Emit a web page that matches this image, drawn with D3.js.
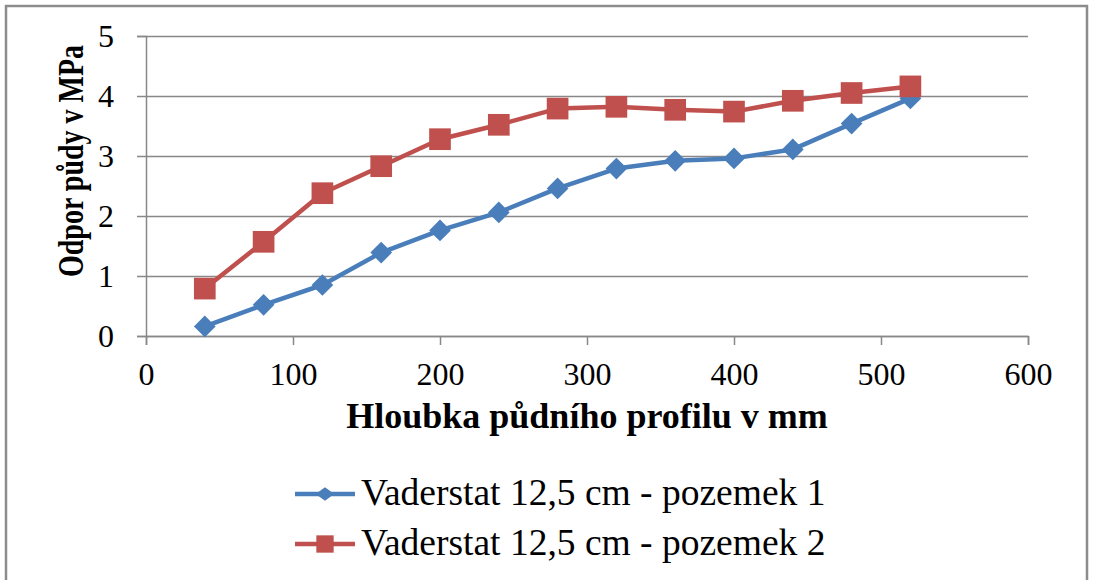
<!DOCTYPE html>
<html>
<head>
<meta charset="utf-8">
<script src="https://cdn.jsdelivr.net/npm/d3@7"></script>
<style>
  body { margin: 0; background: #fff; }
  svg text { font-family: "Liberation Serif", "Times New Roman", serif; fill: #000; }
</style>
</head>
<body>
<svg id="chart" width="1093" height="580"></svg>
<script>
// hloubka v mm
const depths = [40, 80, 120, 160, 200, 240, 280, 320, 360, 400, 440, 480, 520];
// odpor pudy v MPa
const pozemek1 = [0.16, 0.52, 0.85, 1.39, 1.76, 2.06, 2.46, 2.79, 2.92, 2.96, 3.11, 3.54, 3.96];
const pozemek2 = [0.79, 1.57, 2.38, 2.83, 3.28, 3.52, 3.79, 3.82, 3.77, 3.74, 3.92, 4.05, 4.16];
const seriesNames = ["Vaderstat 12,5 cm - pozemek 1", "Vaderstat 12,5 cm - pozemek 2"];
const xTicks = [0, 100, 200, 300, 400, 500, 600];
const yTicks = [0, 1, 2, 3, 4, 5];

const colors = ["#4a7ebb", "#c0504d"];
const margin = { top: 36, right: 65, bottom: 244, left: 146 };
const width = 1093, height = 580;

const svg = d3.select("#chart");

// outer frame
svg.append("rect")
  .attr("x", 6).attr("y", 6)
  .attr("width", 1081).attr("height", 600)
  .attr("fill", "none")
  .attr("stroke", "#8c8c8c")
  .attr("stroke-width", 2.5);

const x = d3.scaleLinear([0, 600], [margin.left, width - margin.right]);
const y = d3.scaleLinear([0, 5], [height - margin.bottom, margin.top]);

// y axis + grid
svg.append("g")
  .attr("transform", `translate(${margin.left},0)`)
  .call(d3.axisLeft(y).tickValues(yTicks).tickFormat(d3.format("d")).tickSize(9).tickPadding(23))
  .call(g => g.select(".domain").attr("stroke", "#888").attr("stroke-width", 1.5))
  .call(g => g.selectAll(".tick line").attr("stroke", "#888").attr("stroke-width", 1.5))
  .call(g => g.selectAll(".tick line").clone()
      .attr("x2", width - margin.left - margin.right))
  .call(g => g.selectAll(".tick text")
      .style("font-size", "32px").style("font-family", "Liberation Serif"));

// x axis
svg.append("g")
  .attr("transform", `translate(0,${height - margin.bottom})`)
  .call(d3.axisBottom(x).tickValues(xTicks).tickFormat(d3.format("d")).tickSize(9).tickPadding(17))
  .call(g => g.select(".domain").attr("stroke", "#888").attr("stroke-width", 1.5))
  .call(g => g.selectAll(".tick line").attr("stroke", "#888").attr("stroke-width", 1.5))
  .call(g => g.selectAll(".tick text")
      .style("font-size", "32px").style("font-family", "Liberation Serif"));

// axis titles
svg.append("text")
  .attr("transform", "translate(83,161) rotate(-90) scale(1,1.3)")
  .attr("text-anchor", "middle")
  .style("font-size", "28px").style("font-weight", "bold")
  .text("Odpor půdy v MPa");

svg.append("text")
  .attr("x", (x(0) + x(600)) / 2)
  .attr("y", 428)
  .attr("text-anchor", "middle")
  .style("font-size", "36px").style("font-weight", "bold")
  .text("Hloubka půdního profilu v mm");

const line = d3.line().x((d, i) => x(depths[i])).y(d => y(d));
const diamond = d3.symbol(d3.symbolDiamond2, 300);
const square = d3.symbol(d3.symbolSquare, 470);

[pozemek1, pozemek2].forEach((vals, s) => {
  svg.append("path")
    .datum(vals)
    .attr("fill", "none")
    .attr("stroke", colors[s])
    .attr("stroke-width", 4.5)
    .attr("stroke-linejoin", "round")
    .attr("d", line);
  svg.append("g").selectAll("path")
    .data(vals)
    .join("path")
      .attr("transform", (d, i) => `translate(${x(depths[i])},${y(d)})`)
      .attr("d", s === 0 ? diamond : square)
      .attr("fill", colors[s]);
});

// legend
const legend = svg.append("g").selectAll("g")
  .data(seriesNames)
  .join("g")
    .attr("transform", (d, i) => `translate(295,${494 + i * 50})`);

legend.append("line")
  .attr("x1", 0).attr("x2", 60)
  .attr("stroke", (d, i) => colors[i])
  .attr("stroke-width", 4.5);

legend.append("path")
  .attr("transform", (d, i) => i === 0 ? "translate(30,0) scale(1,0.72)" : "translate(30,0)")
  .attr("d", (d, i) => i === 0 ? d3.symbol(d3.symbolDiamond2, 220)() : d3.symbol(d3.symbolSquare, 300)())
  .attr("fill", (d, i) => colors[i]);

legend.append("text")
  .attr("x", 66)
  .attr("y", 11)
  .style("font-size", "37.5px")
  .text(d => d);
</script>
</body>
</html>
